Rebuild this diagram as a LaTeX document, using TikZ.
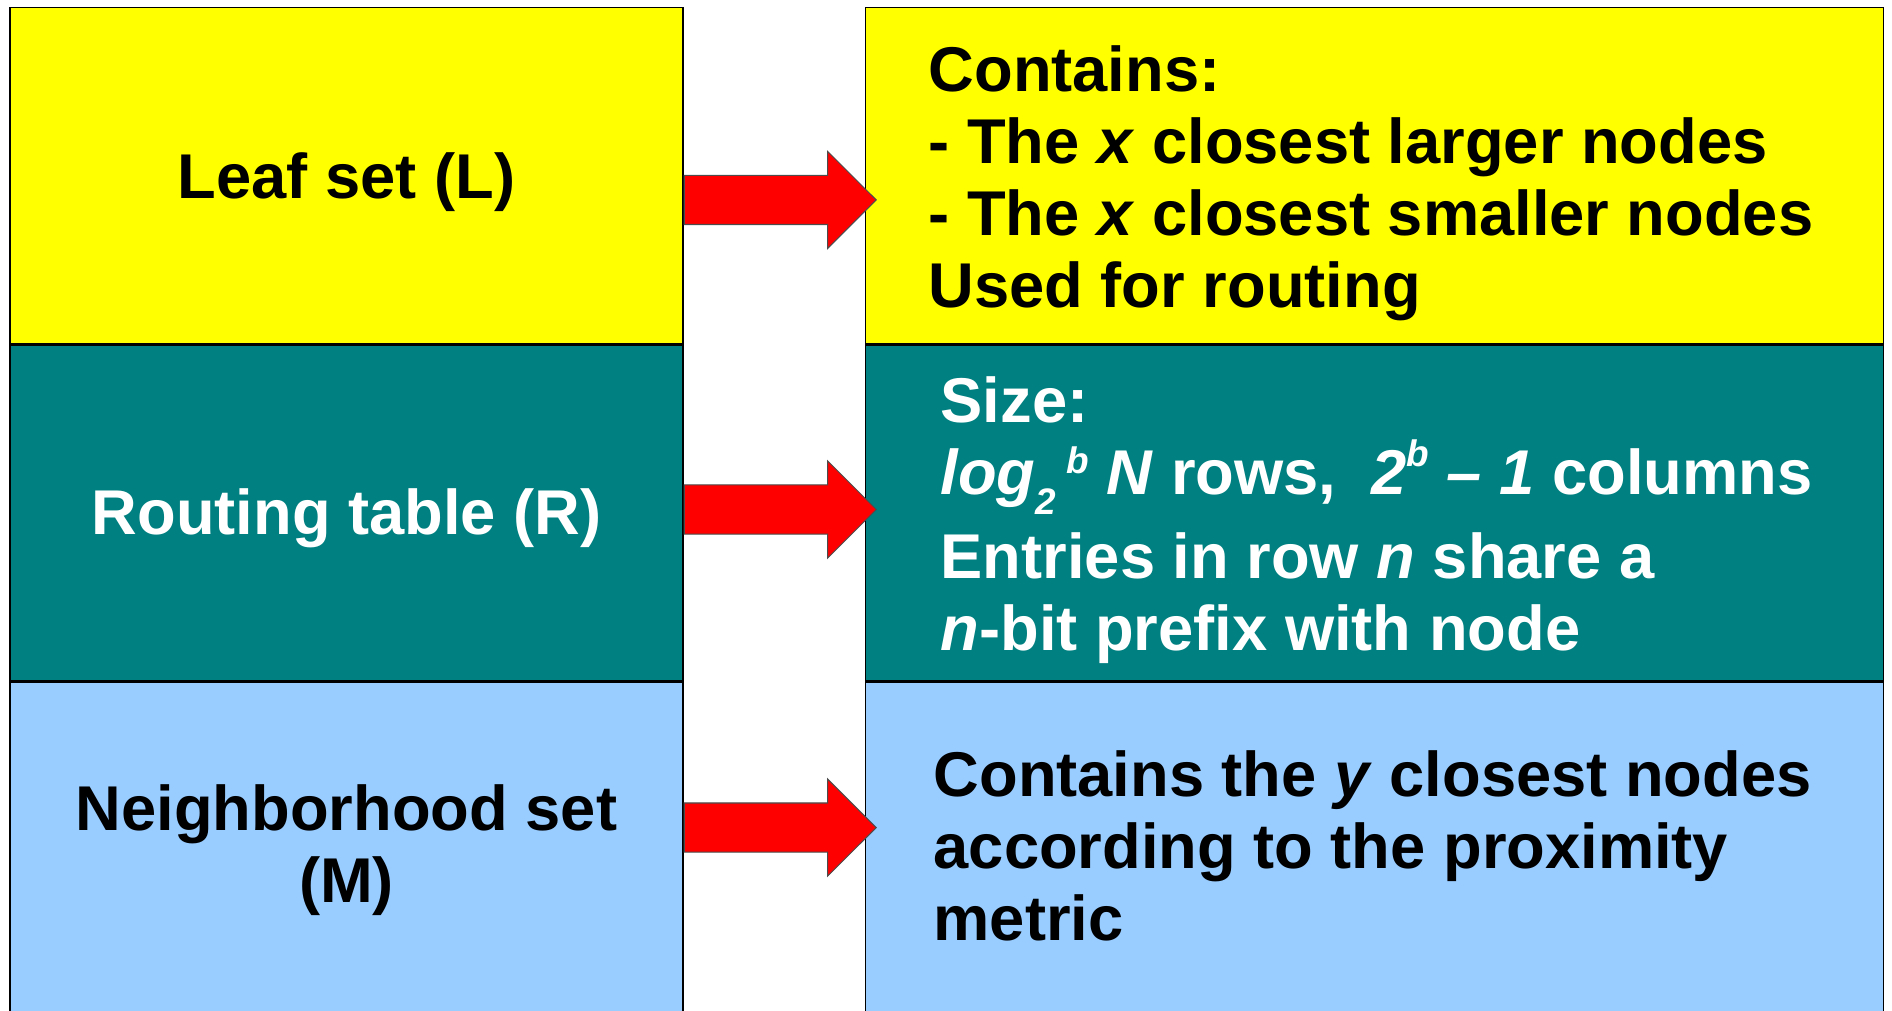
\documentclass[tikz,border=0pt]{standalone}
\usepackage{fontspec}
\setmainfont{Liberation Sans}
\usetikzlibrary{positioning,shapes.arrows}
\definecolor{Lemon}{HTML}{FFFF00}
\definecolor{Teal}{HTML}{008080}
\definecolor{Sky}{HTML}{99CCFF}
\definecolor{Signal}{HTML}{FF0000}
\newcommand\lowsub[1]{\raisebox{-5.7pt}{\fontsize{10.5}{10.5}\selectfont#1}}
\newcommand\highsup[2][6pt]{\raisebox{#1}{\fontsize{10.5}{10.5}\selectfont#2}}

\begin{document}
\begin{tikzpicture}[
  node distance=0cm,
  every node/.style={font=\fontsize{18}{20.5}\selectfont\bfseries},
  setbox/.style={draw=black,line width=.4pt,minimum width=6.73cm,minimum height=3.36cm,
    inner sep=0pt,align=center},
  infobox/.style={draw=black,line width=.4pt,minimum width=10.18cm,minimum height=3.36cm,
    inner sep=0pt},
  info/.style={anchor=west,align=left,inner sep=0pt},
  bigarrow/.style={single arrow,draw=black!70,line width=.3pt,fill=Signal,anchor=tail,
    minimum height=1.92cm,minimum width=.96cm,inner sep=.24cm,single arrow head extend=.24cm}]
\useasboundingbox (0,0) rectangle (18.92,-10.11);
% left column
\node[setbox,fill=Lemon](leafbox) at (3.465,-1.755){\raisebox{-.07cm}[\height][\depth]{Leaf set (L)}};
\node[setbox,fill=Teal,text=white,below=of leafbox](routebox){\raisebox{-.05cm}[\height][\depth]{Routing table (R)}};
\node[setbox,fill=Sky,below=of routebox](nbrbox){Neighborhood set\\(M)};
% right column
\node[infobox,fill=Lemon,right=1.81cm of leafbox](leafinfo){};
\node[infobox,fill=Teal,right=1.81cm of routebox](routeinfo){};
\node[infobox,fill=Sky,right=1.81cm of nbrbox](nbrinfo){};
\node[info](leaftext) at (9.28,-1.835){Contains:\\
  - The \textit{x} closest larger nodes\\
  - The \textit{x} closest smaller nodes\\
  Used for routing};
\node[info,text=white](routetext) at (9.40,-5.20){Size:\\
  \textit{log\lowsub{2}\,\highsup{b} N} rows,\ \ \textit{2\highsup[8pt]{b} – 1} columns\\[3.5pt]
  Entries in row \textit{n} share a\\
  \textit{n}-bit prefix with node};
\node[info](nbrtext) at (9.33,-8.46){Contains the \textit{y} closest nodes\\
  according to the proximity\\
  metric};
% arrows
\node[bigarrow](leafarrow) at (leafbox.east|-0,-2.00){};
\node[bigarrow](routearrow) at (routebox.east|-0,-5.095){};
\node[bigarrow](nbrarrow) at (nbrbox.east|-0,-8.275){};
\end{tikzpicture}
\end{document}
